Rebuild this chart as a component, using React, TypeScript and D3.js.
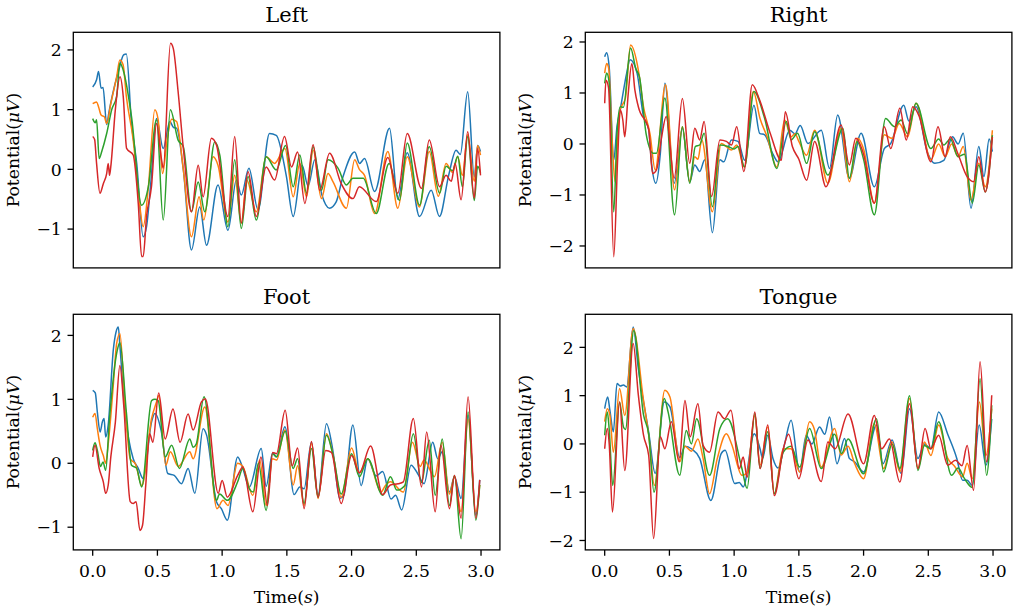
import * as d3 from "d3";

type Pt = [number, number];

const colors = ["#1f77b4", "#ff7f0e", "#2ca02c", "#d62728"];
const titles = ["Left", "Right", "Foot", "Tongue"];
const timeTicks = [0, 0.5, 1, 1.5, 2, 2.5, 3];

const leftBlue: Pt[] = [[0,1.38],[0.03,1.5],[0.045,1.64],[0.065,1.36],[0.08,1.37],[0.108,0.75],[0.125,0.95],[0.15,1.22],[0.2,1.65],[0.24,1.92],[0.26,1.93],[0.3,0.77],[0.34,0.1],[0.39,-1.13],[0.416,-0.96],[0.45,-0.2],[0.493,0.85],[0.545,0.35],[0.596,0.8],[0.625,0.7],[0.648,0.69],[0.7,0.0],[0.763,-1.35],[0.827,-0.63],[0.879,-1.27],[0.968,-0.26],[1.045,-1.02],[1.11,-0.18],[1.148,-0.43],[1.207,0.02],[1.277,-0.68],[1.366,0.6],[1.418,0.57],[1.495,-0.1],[1.549,-0.79],[1.618,0.07],[1.664,-0.28],[1.716,0.16],[1.77,-0.42],[1.83,-0.65],[1.88,-0.55],[1.93,-0.15],[2.024,0.29],[2.062,0.1],[2.1,0.18],[2.178,-0.37],[2.293,0.69],[2.357,-0.5],[2.43,0.28],[2.525,-0.79],[2.615,-0.35],[2.679,-0.79],[2.75,-0.1],[2.807,0.32],[2.84,0.25],[2.897,1.3],[2.948,-0.13],[2.974,0.4],[2.996,0.3]];
const leftOrange: Pt[] = [[0,1.1],[0.03,1.13],[0.045,1.05],[0.065,0.91],[0.09,0.88],[0.108,0.77],[0.14,1.1],[0.185,1.55],[0.21,1.83],[0.235,1.75],[0.26,1.22],[0.313,0.49],[0.352,-0.35],[0.39,-0.96],[0.43,-0.3],[0.48,1.0],[0.506,0.83],[0.54,-0.07],[0.575,0.5],[0.61,0.84],[0.648,0.8],[0.7,0.0],[0.763,-1.13],[0.822,-0.46],[0.858,-0.85],[0.93,0.21],[0.968,0.07],[1.045,-0.88],[1.097,-0.1],[1.148,-0.9],[1.19,-0.18],[1.264,-0.71],[1.34,0.21],[1.405,0.1],[1.485,0.35],[1.549,-0.46],[1.6,0.1],[1.652,-0.46],[1.703,0.32],[1.767,-0.49],[1.818,-0.07],[1.857,-0.21],[1.96,-0.65],[2.024,0.16],[2.06,0.0],[2.1,-0.1],[2.178,-0.74],[2.28,0.3],[2.357,-0.65],[2.43,0.21],[2.525,-0.63],[2.6,0.3],[2.67,-0.45],[2.73,0.1],[2.78,-0.05],[2.82,0.21],[2.856,-0.1],[2.897,0.58],[2.948,-0.2],[2.974,0.4],[2.996,0.24]];
const leftGreen: Pt[] = [[0,0.85],[0.02,0.78],[0.03,0.83],[0.05,0.18],[0.07,0.3],[0.108,0.6],[0.147,1.0],[0.185,1.22],[0.21,1.78],[0.236,1.66],[0.3,0.88],[0.378,-0.6],[0.43,-0.29],[0.493,0.83],[0.545,-0.85],[0.6,1.0],[0.66,0.49],[0.7,0.38],[0.763,-0.71],[0.815,-0.21],[0.866,-0.71],[0.943,0.46],[0.982,0.24],[1.045,-0.96],[1.097,0.16],[1.148,-0.99],[1.2,-0.12],[1.264,-0.85],[1.34,0.21],[1.418,-0.01],[1.49,0.4],[1.549,-0.29],[1.6,0.24],[1.652,-0.4],[1.703,0.38],[1.767,-0.35],[1.818,0.16],[1.895,0.02],[1.96,-0.26],[2.01,-0.15],[2.09,-0.15],[2.19,-0.74],[2.29,0.1],[2.37,-0.52],[2.43,0.44],[2.525,-0.6],[2.6,0.38],[2.68,-0.4],[2.73,0.05],[2.78,-0.02],[2.82,0.22],[2.856,-0.29],[2.897,0.55],[2.948,-0.52],[2.974,0.05],[2.996,-0.06]];
const leftRed: Pt[] = [[0,0.55],[0.015,0.5],[0.03,0.1],[0.056,-0.4],[0.082,-0.24],[0.108,-0.07],[0.12,0.1],[0.13,-0.1],[0.14,0.05],[0.175,1.0],[0.211,1.55],[0.236,1.22],[0.262,0.35],[0.313,0.24],[0.352,-0.57],[0.378,-1.46],[0.39,-1.46],[0.416,-0.79],[0.454,-0.29],[0.493,0.77],[0.532,0.16],[0.545,0.02],[0.601,2.11],[0.622,2.03],[0.66,1.3],[0.699,0.38],[0.763,-0.71],[0.815,0.07],[0.853,-0.46],[0.917,0.52],[0.956,0.41],[1.045,-0.79],[1.097,0.55],[1.148,-0.9],[1.2,-0.04],[1.264,-0.79],[1.34,0.04],[1.405,-0.18],[1.482,0.55],[1.536,0.04],[1.583,0.29],[1.639,-0.57],[1.703,0.41],[1.754,-0.35],[1.83,0.27],[1.92,-0.24],[2.01,-0.49],[2.06,-0.29],[2.19,-0.54],[2.28,0.2],[2.357,-0.4],[2.43,0.6],[2.54,-0.32],[2.6,0.49],[2.68,-0.29],[2.73,-0.1],[2.77,-0.2],[2.8,0.1],[2.846,-0.51],[2.897,0.63],[2.948,-0.48],[2.974,0.35],[2.996,-0.1]];

const rightBlue: Pt[] = [[0,1.71],[0.015,1.79],[0.035,1.5],[0.07,-0.31],[0.095,0.34],[0.12,0.67],[0.17,1.39],[0.196,1.65],[0.25,1.39],[0.3,0.54],[0.34,0.28],[0.362,-0.38],[0.395,-0.77],[0.43,-0.18],[0.465,1.19],[0.537,-0.77],[0.6,0.31],[0.657,-0.74],[0.696,-0.41],[0.734,-0.54],[0.773,-0.31],[0.832,-1.74],[0.89,-0.31],[0.92,-0.35],[0.979,0.08],[1.03,0.05],[1.082,-0.32],[1.153,0.76],[1.197,0.21],[1.236,0.18],[1.3,-0.2],[1.339,-0.35],[1.43,0.27],[1.47,0.2],[1.51,0.36],[1.57,0.01],[1.673,0.27],[1.737,-0.48],[1.8,0.57],[1.89,-0.67],[1.981,0.21],[2.083,-0.84],[2.16,-0.09],[2.21,0.01],[2.31,0.76],[2.35,0.45],[2.405,0.73],[2.495,-0.18],[2.55,-0.38],[2.62,-0.32],[2.687,0.14],[2.73,0.0],[2.77,0.21],[2.83,-1.26],[2.89,-0.05],[2.93,-0.64],[2.97,0.1],[2.995,-0.15]];
const rightOrange: Pt[] = [[0,1.39],[0.015,1.58],[0.03,1.5],[0.06,-0.05],[0.08,-0.74],[0.1,0.1],[0.12,0.67],[0.16,0.9],[0.2,1.94],[0.26,1.45],[0.3,0.73],[0.35,0.2],[0.39,-0.51],[0.47,1.16],[0.54,-0.9],[0.6,0.34],[0.657,-0.74],[0.696,-0.25],[0.72,-0.3],[0.75,0.08],[0.832,-1.33],[0.9,0.01],[0.94,-0.05],[0.979,-0.12],[1.02,-0.02],[1.08,-0.45],[1.148,1.03],[1.2,0.5],[1.255,0.14],[1.33,-0.45],[1.39,0.47],[1.44,0.14],[1.47,0.2],[1.5,0.05],[1.56,-0.22],[1.622,0.27],[1.724,-0.77],[1.826,0.31],[1.89,-0.74],[1.955,0.11],[2.0,-0.1],[2.083,-1.16],[2.16,0.18],[2.22,0.11],[2.275,0.4],[2.34,0.14],[2.405,0.8],[2.52,-0.31],[2.58,0.0],[2.63,-0.25],[2.68,0.0],[2.73,-0.25],[2.77,-0.05],[2.83,-1.1],[2.89,-0.38],[2.94,-0.84],[2.995,0.27]];
const rightGreen: Pt[] = [[0,1.19],[0.015,1.39],[0.035,1.2],[0.07,-1.33],[0.095,0.2],[0.12,0.73],[0.145,0.72],[0.2,1.88],[0.24,1.48],[0.27,1.3],[0.32,0.2],[0.375,-0.18],[0.4,-0.18],[0.465,0.9],[0.54,-1.39],[0.6,0.34],[0.657,-0.77],[0.7,-0.05],[0.734,-0.02],[0.768,0.21],[0.832,-1.23],[0.89,-0.02],[0.954,-0.05],[1.0,-0.1],[1.03,-0.05],[1.08,-0.45],[1.153,1.03],[1.236,0.5],[1.33,-0.48],[1.403,0.44],[1.44,0.08],[1.49,0.21],[1.56,-0.38],[1.622,0.24],[1.724,-0.61],[1.84,0.31],[1.89,-0.67],[1.95,0.05],[2.0,-0.3],[2.083,-1.39],[2.17,0.5],[2.238,0.34],[2.29,0.47],[2.34,0.2],[2.405,0.8],[2.52,-0.09],[2.58,0.1],[2.62,-0.02],[2.67,0.1],[2.73,-0.25],[2.78,-0.2],[2.84,-1.16],[2.89,-0.41],[2.94,-0.94],[2.995,0.17]];
const rightRed: Pt[] = [[0,0.8],[0.01,1.25],[0.03,1.1],[0.07,-2.21],[0.1,-0.3],[0.12,0.67],[0.14,0.47],[0.155,0.14],[0.18,0.93],[0.21,1.58],[0.233,1.06],[0.26,0.73],[0.34,0.28],[0.37,-0.58],[0.4,-0.51],[0.44,0.14],[0.475,0.54],[0.537,-0.67],[0.6,0.89],[0.657,-0.38],[0.696,0.31],[0.734,0.08],[0.768,0.44],[0.826,-1.03],[0.89,0.08],[0.94,0.05],[0.98,-0.02],[1.02,0.34],[1.075,-0.54],[1.14,1.16],[1.197,0.86],[1.28,0.2],[1.365,-0.32],[1.395,0.63],[1.45,-0.05],[1.5,-0.3],[1.56,-0.71],[1.622,0.05],[1.71,-0.84],[1.826,0.37],[1.89,-0.41],[1.94,0.11],[2.0,-0.2],[2.083,-1.16],[2.16,0.34],[2.21,-0.09],[2.28,0.7],[2.33,0.08],[2.38,0.73],[2.43,0.54],[2.52,-0.35],[2.575,0.34],[2.63,-0.25],[2.67,0.14],[2.73,-0.2],[2.8,-0.64],[2.85,-0.74],[2.89,-0.25],[2.94,-0.94],[2.995,0.14]];

const footBlue: Pt[] = [[0,1.14],[0.02,1.1],[0.036,0.8],[0.057,0.49],[0.075,0.65],[0.088,0.7],[0.1,0.41],[0.12,0.6],[0.16,1.79],[0.18,2.05],[0.198,2.13],[0.21,1.84],[0.25,0.8],[0.313,0.07],[0.352,-0.08],[0.39,-0.24],[0.455,0.65],[0.48,0.78],[0.53,0.5],[0.58,-0.16],[0.63,-0.19],[0.686,-0.32],[0.737,-0.08],[0.789,-0.47],[0.853,0.54],[0.88,0.44],[0.956,-0.6],[0.994,-0.71],[1.04,-0.89],[1.12,0.1],[1.16,-0.08],[1.21,-0.37],[1.302,0.23],[1.34,-0.36],[1.39,0.16],[1.42,0.1],[1.485,0.57],[1.556,-0.49],[1.6,-0.37],[1.633,-0.4],[1.69,0.33],[1.741,-0.5],[1.806,0.62],[1.857,0.18],[1.908,-0.55],[1.94,-0.5],[2.01,0.6],[2.074,-0.35],[2.125,0.07],[2.19,-0.2],[2.24,-0.13],[2.305,-0.56],[2.34,-0.5],[2.387,-0.73],[2.46,-0.03],[2.51,-0.16],[2.56,-0.32],[2.627,0.33],[2.666,0.07],[2.7,0.18],[2.756,-0.45],[2.795,-0.21],[2.846,-0.55],[2.9,0.75],[2.96,-0.81],[2.99,-0.26]];
const footOrange: Pt[] = [[0,0.72],[0.018,0.78],[0.036,0.54],[0.057,0.28],[0.082,0.12],[0.1,0.0],[0.12,0.3],[0.155,1.11],[0.185,1.87],[0.21,2.03],[0.25,0.9],[0.29,0.07],[0.33,-0.01],[0.38,-0.35],[0.455,0.7],[0.493,0.96],[0.51,1.06],[0.565,-0.03],[0.6,0.18],[0.66,-0.05],[0.75,0.18],[0.776,0.07],[0.866,0.88],[0.96,-0.71],[1.007,-0.58],[1.045,-0.66],[1.12,0.0],[1.16,-0.05],[1.237,-0.5],[1.29,0.05],[1.34,-0.66],[1.39,0.07],[1.42,0.05],[1.485,0.52],[1.549,-0.34],[1.583,-0.04],[1.633,-0.66],[1.69,0.31],[1.741,-0.55],[1.806,0.46],[1.86,0.1],[1.92,-0.53],[2.0,0.24],[2.06,-0.15],[2.125,0.07],[2.227,-0.45],[2.26,-0.35],[2.3,-0.29],[2.4,-0.45],[2.47,0.33],[2.53,-0.05],[2.56,0.05],[2.64,-0.21],[2.7,0.33],[2.756,-0.48],[2.795,-0.21],[2.846,-0.76],[2.9,0.69],[2.96,-0.76],[2.99,-0.34]];
const footGreen: Pt[] = [[0,0.2],[0.018,0.32],[0.036,0.2],[0.06,-0.05],[0.08,0.02],[0.1,-0.11],[0.13,0.7],[0.19,1.77],[0.21,1.89],[0.26,0.8],[0.3,-0.03],[0.34,-0.08],[0.378,-0.37],[0.455,0.98],[0.48,1.0],[0.506,0.98],[0.56,0.1],[0.61,0.28],[0.67,-0.08],[0.75,0.38],[0.776,0.25],[0.8,0.3],[0.86,1.04],[0.956,-0.58],[0.98,-0.48],[1.04,-0.58],[1.12,-0.29],[1.16,-0.08],[1.21,-0.4],[1.24,-0.45],[1.28,0.0],[1.34,-0.74],[1.39,0.15],[1.42,0.1],[1.487,0.5],[1.549,-0.08],[1.583,0.07],[1.633,-0.63],[1.69,0.23],[1.741,-0.53],[1.806,0.44],[1.86,0.1],[1.92,-0.48],[2.0,0.15],[2.06,-0.21],[2.125,0.07],[2.24,-0.5],[2.3,-0.21],[2.35,-0.42],[2.41,-0.35],[2.477,0.46],[2.54,-0.3],[2.6,0.36],[2.646,-0.5],[2.7,0.38],[2.756,-0.66],[2.795,-0.19],[2.846,-1.18],[2.9,0.8],[2.96,-0.89],[2.99,-0.34]];
const footRed: Pt[] = [[0,0.1],[0.018,0.28],[0.05,-0.08],[0.082,-0.29],[0.1,-0.47],[0.12,-0.34],[0.14,0.1],[0.175,0.64],[0.21,1.53],[0.24,0.9],[0.29,-0.6],[0.313,-0.63],[0.335,-0.6],[0.365,-1.05],[0.385,-0.97],[0.41,-0.34],[0.44,0.46],[0.465,0.33],[0.51,1.1],[0.56,0.38],[0.62,0.85],[0.675,0.33],[0.737,0.77],[0.776,0.52],[0.84,0.96],[0.87,1.01],[0.97,-0.47],[1.0,-0.27],[1.04,-0.53],[1.12,-0.19],[1.16,-0.06],[1.237,-0.76],[1.3,0.1],[1.35,-0.66],[1.39,0.17],[1.42,0.15],[1.487,0.83],[1.541,-0.04],[1.583,0.24],[1.633,-0.71],[1.69,0.34],[1.741,-0.53],[1.8,0.2],[1.844,0.17],[1.92,-0.63],[2.0,0.12],[2.06,-0.15],[2.147,0.27],[2.24,-0.49],[2.3,-0.34],[2.36,-0.32],[2.4,-0.29],[2.477,0.7],[2.54,-0.37],[2.58,0.49],[2.646,-0.76],[2.69,0.28],[2.756,-0.71],[2.795,-0.19],[2.846,-0.86],[2.9,1.04],[2.96,-0.86],[2.99,-0.26]];

const tongueBlue: Pt[] = [[0,0.73],[0.023,0.97],[0.04,0.7],[0.067,0.25],[0.095,1.25],[0.12,1.2],[0.145,1.22],[0.17,1.18],[0.22,2.42],[0.26,1.56],[0.34,0.24],[0.39,-0.61],[0.46,0.87],[0.504,0.77],[0.58,-0.28],[0.62,-0.05],[0.67,-0.1],[0.734,-0.3],[0.82,-1.17],[0.9,-0.2],[0.93,-0.13],[1.005,-0.82],[1.04,-0.8],[1.07,-0.89],[1.156,0.21],[1.2,-0.1],[1.22,-0.3],[1.26,0.18],[1.3,-0.3],[1.34,-0.5],[1.39,0.0],[1.44,0.49],[1.506,-0.58],[1.557,0.18],[1.6,0.0],[1.66,0.35],[1.7,0.2],[1.737,0.56],[1.795,-0.41],[1.853,0.11],[1.89,-0.3],[1.93,-0.37],[2.0,-0.58],[2.1,0.39],[2.15,-0.41],[2.22,0.08],[2.29,-0.61],[2.355,0.73],[2.42,-0.3],[2.47,0.0],[2.52,-0.1],[2.58,0.66],[2.65,0.2],[2.72,-0.3],[2.765,-0.75],[2.8,-0.75],[2.84,-0.86],[2.893,0.39],[2.945,-0.44],[2.99,0.52]];
const tongueOrange: Pt[] = [[0,0.46],[0.02,0.73],[0.04,0.6],[0.067,-0.17],[0.115,1.15],[0.155,0.59],[0.22,2.39],[0.3,0.9],[0.34,0.18],[0.384,-0.86],[0.464,1.11],[0.504,0.97],[0.58,-0.37],[0.62,-0.05],[0.67,-0.15],[0.72,0.1],[0.76,-0.3],[0.81,-1.03],[0.87,-0.3],[0.94,0.21],[0.98,0.0],[1.06,-0.65],[1.1,-0.6],[1.16,0.59],[1.2,-0.44],[1.26,0.35],[1.31,-1.03],[1.38,-0.1],[1.44,-0.1],[1.506,-0.58],[1.583,0.46],[1.62,0.3],[1.673,-0.48],[1.776,0.32],[1.827,-0.23],[1.88,-0.05],[1.93,-0.4],[2.0,-0.72],[2.083,0.42],[2.155,-0.51],[2.22,0.04],[2.28,-0.58],[2.355,0.94],[2.42,-0.51],[2.47,0.04],[2.52,-0.24],[2.58,0.39],[2.65,-0.3],[2.7,-0.45],[2.765,-0.68],[2.8,-0.4],[2.84,-0.72],[2.895,0.87],[2.945,-0.24],[2.99,0.73]];
const tongueGreen: Pt[] = [[0,0.18],[0.02,0.66],[0.035,0.3],[0.062,-0.86],[0.115,0.87],[0.145,0.35],[0.16,0.3],[0.225,2.35],[0.3,0.6],[0.34,0.2],[0.381,-1.0],[0.46,0.94],[0.49,0.66],[0.58,-0.65],[0.63,0.28],[0.67,0.0],[0.71,0.52],[0.81,-0.65],[0.89,0.32],[0.95,0.52],[1.06,-0.51],[1.1,-0.92],[1.16,0.63],[1.2,-0.51],[1.26,0.25],[1.31,-1.03],[1.38,-0.17],[1.44,-0.05],[1.506,-0.48],[1.583,0.32],[1.673,-0.51],[1.776,0.2],[1.83,-0.2],[1.88,0.1],[2.0,-0.62],[2.1,0.52],[2.155,-0.58],[2.22,0.0],[2.28,-0.51],[2.355,1.0],[2.42,-0.55],[2.47,-0.03],[2.52,-0.1],[2.58,0.46],[2.68,-0.65],[2.73,-0.5],[2.78,-0.72],[2.84,-0.9],[2.9,1.35],[2.95,-0.65],[2.99,0.8]];
const tongueRed: Pt[] = [[0,-0.1],[0.02,0.32],[0.035,0.0],[0.06,-1.41],[0.115,0.87],[0.155,-0.55],[0.22,2.08],[0.26,1.01],[0.3,0.18],[0.34,-0.24],[0.378,-1.96],[0.43,0.15],[0.465,-0.1],[0.515,0.46],[0.575,-0.37],[0.62,0.9],[0.66,0.15],[0.72,0.83],[0.76,-0.03],[0.81,-0.17],[0.876,0.66],[0.925,0.52],[0.975,0.7],[1.04,-0.51],[1.07,-0.27],[1.1,-0.69],[1.16,0.66],[1.2,-0.51],[1.26,0.39],[1.31,-1.07],[1.38,-0.1],[1.42,0.2],[1.5,-0.72],[1.57,0.08],[1.673,-0.78],[1.724,0.04],[1.78,-0.1],[1.88,0.62],[2.0,-0.41],[2.083,0.59],[2.14,-0.1],[2.2,0.1],[2.28,-0.79],[2.355,0.83],[2.42,-0.51],[2.475,0.32],[2.52,-0.1],[2.58,0.18],[2.65,-0.44],[2.71,-0.34],[2.76,-0.45],[2.8,-0.03],[2.85,-0.96],[2.9,1.7],[2.95,-0.37],[2.99,1.01]];

const leftTicks = [-1, 0, 1, 2];
const rightTicks = [-2, -1, 0, 1, 2];
const footTicks = [-1, 0, 1, 2];
const tongueTicks = [-2, -1, 0, 1, 2];

const FONT = "DejaVu Serif, serif";
const minus = (s: string) => s.replace("-", "\u2212");

const panels = [
  { title: titles[0], left: 73.3, top: 32.3, yDomain: [-1.65, 2.295], ticks: leftTicks, series: [leftBlue, leftOrange, leftGreen, leftRed], bottomRow: false },
  { title: titles[1], left: 585.3, top: 32.3, yDomain: [-2.43, 2.19], ticks: rightTicks, series: [rightBlue, rightOrange, rightGreen, rightRed], bottomRow: false },
  { title: titles[2], left: 73.3, top: 314.3, yDomain: [-1.355, 2.33], ticks: footTicks, series: [footBlue, footOrange, footGreen, footRed], bottomRow: true },
  { title: titles[3], left: 585.3, top: 314.3, yDomain: [-2.195, 2.685], ticks: tongueTicks, series: [tongueBlue, tongueOrange, tongueGreen, tongueRed], bottomRow: true },
];

const PW = 426.6;
const PH = 235.6;
const TICK_FS = 17.2;
const TITLE_FS = 21;

function Panel({ p }: { p: (typeof panels)[number] }) {
  const x = d3.scaleLinear().domain([-0.1498, 3.1458]).range([0, PW]);
  const y = d3.scaleLinear().domain(p.yDomain).range([PH, 0]);
  const line = d3
    .line<Pt>()
    .x((d) => x(d[0]))
    .y((d) => y(d[1]))
    .curve(d3.curveMonotoneX);
  const clipId = `clip-${p.title}`;

  return (
    <g transform={`translate(${p.left},${p.top})`}>
      <defs>
        <clipPath id={clipId}>
          <rect width={PW} height={PH} />
        </clipPath>
      </defs>
      <g clipPath={`url(#${clipId})`}>
        {p.series.map((s, i) => (
          <path key={i} d={line(s) || ""} fill="none" stroke={colors[i]} strokeWidth={1.5} strokeLinejoin="round" />
        ))}
      </g>
      <rect width={PW} height={PH} fill="none" stroke="#000" strokeWidth={1.3} />

      {/* y axis */}
      {p.ticks.map((t) => (
        <g key={t} transform={`translate(0,${y(t)})`}>
          <line x1={-5.8} x2={0} stroke="#000" strokeWidth={1.3} />
          <text x={-11.5} dy="0.36em" textAnchor="end" fontSize={TICK_FS} fontFamily={FONT}>
            {minus(String(t))}
          </text>
        </g>
      ))}
      <text
        transform={`translate(${-54},${PH / 2}) rotate(-90)`}
        textAnchor="middle"
        fontSize={TICK_FS}
        fontFamily={FONT}
      >
        Potential(<tspan fontStyle="italic">μV</tspan>)
      </text>

      {/* x axis, bottom row only */}
      {p.bottomRow &&
        timeTicks.map((t) => (
          <g key={t} transform={`translate(${x(t)},${PH})`}>
            <line y1={0} y2={5.8} stroke="#000" strokeWidth={1.3} />
            <text y={27.3} textAnchor="middle" fontSize={TICK_FS} fontFamily={FONT}>
              {d3.format(".1f")(t)}
            </text>
          </g>
        ))}
      {p.bottomRow && (
        <text x={PW / 2} y={PH + 53.3} textAnchor="middle" fontSize={TICK_FS} fontFamily={FONT}>
          Time(<tspan fontStyle="italic">s</tspan>)
        </text>
      )}

      <text x={PW / 2} y={-10.5} textAnchor="middle" fontSize={TITLE_FS} fontFamily={FONT}>
        {p.title}
      </text>
    </g>
  );
}

export default function App() {
  return (
    <svg
      width={1017}
      height={610}
      style={{ position: "absolute", left: 0, top: 0, background: "#fff" }}
    >
      <rect width={1017} height={610} fill="#fff" />
      {panels.map((p) => (
        <Panel key={p.title} p={p} />
      ))}
    </svg>
  );
}
